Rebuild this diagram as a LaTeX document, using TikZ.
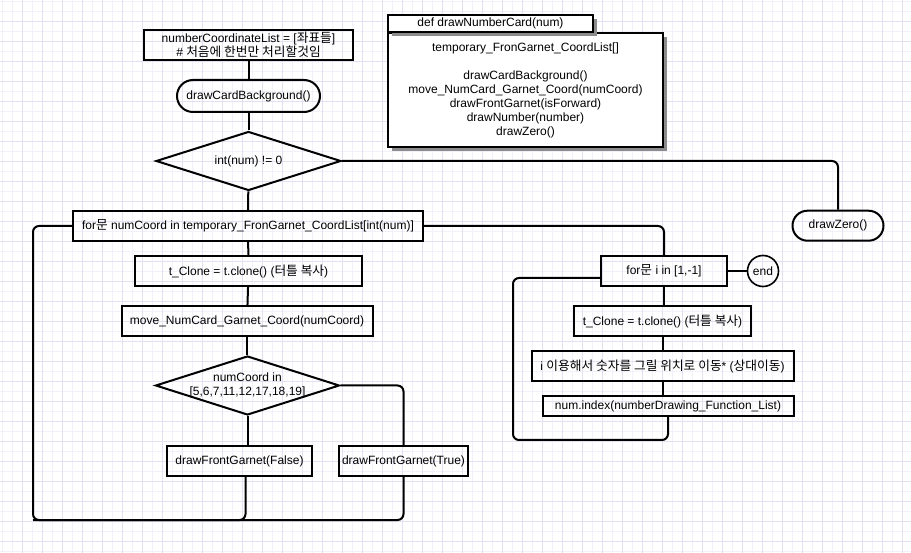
\documentclass[tikz,border=0pt]{standalone}
\usepackage{fontspec}
\setmainfont{Liberation Sans}
\newfontfamily\krfont{Noto Sans CJK KR}[Scale=1.06]
\newcommand\kr[1]{{\krfont #1}}
\usetikzlibrary{shapes.geometric,shadows}
\definecolor{gridminor}{RGB}{241,241,250}
\definecolor{gridmajor}{RGB}{225,225,242}
\tikzset{
  box/.style={draw,line width=2pt,rectangle,inner sep=0pt,minimum height=30pt},
  term/.style={box,rounded corners=15pt},
  dec/.style={draw,line width=2pt,diamond,inner sep=0pt,minimum width=185pt,minimum height=59pt},
  link/.style={line width=2pt,rounded corners=6pt},
  shade/.style={drop shadow={shadow xshift=4pt,shadow yshift=-4pt,opacity=1,fill=black!45}}
}
\begin{document}
\begin{tikzpicture}[x=1pt,y=-1pt,font=\fontsize{12pt}{14pt}\selectfont]
      \useasboundingbox (0,0) rectangle (911,553);
      \fill[white] (0,0) rectangle (911,553);
      \foreach \gx in {2.7,12.7,...,911} \draw[gridminor,line width=.8pt] (\gx,0) -- (\gx,553);
      \foreach \gy in {1.7,11.7,...,553} \draw[gridminor,line width=.8pt] (0,\gy) -- (911,\gy);
      \foreach \gx in {22.7,42.7,...,911} \draw[gridmajor,line width=.8pt] (\gx,0) -- (\gx,553);
      \foreach \gy in {21.7,41.7,...,553} \draw[gridmajor,line width=.8pt] (0,\gy) -- (911,\gy);
      \node[box,minimum width=209pt,align=center] (top) at (248.5,45) {numberCoordinateList = [\kr{좌표들}]\\\# \kr{처음에 한번만 처리할것임}};
      \node[term,rounded corners=16pt,minimum width=143pt,minimum height=32pt] (bg) at (248.5,96) {drawCardBackground()};
      \node[dec] (chk0) at (248.5,161) {};
      \node at (chk0) {int(num) != 0};
      \node[box,minimum width=350pt] (for1) at (248,226) {for\kr{문} numCoord in temporary\_FronGarnet\_CoordList[int(num)]};
      \node[box,minimum width=227pt] (clone1) at (248.5,271) {t\_Clone = t.clone() (\kr{터틀 복사})};
      \node[box,minimum width=251pt] (move1) at (247,321) {move\_NumCard\_Garnet\_Coord(numCoord)};
      \node[dec,minimum width=184pt] (chk1) at (247.5,385.5) {};
      \node[align=center] at (chk1) {numCoord in\\{}[5,6,7,11,12,17,18,19]};
      \node[box,minimum width=145pt] (false) at (239.5,461) {drawFrontGarnet(False)};
      \node[box,minimum width=129pt] (true) at (403.5,461) {drawFrontGarnet(True)};
      \node[term,minimum width=91pt] (zero) at (838,225.7) {drawZero()};
      \node[box,minimum width=126pt] (for2) at (664,271) {for\kr{문} i in [1,-1]};
      \node[draw,circle,line width=1.6pt,minimum size=31pt,inner sep=0pt] (end) at (763,271) {end};
      \node[box,minimum width=177pt] (clone2) at (662.5,321) {t\_Clone = t.clone() (\kr{터틀 복사})};
      \node[box,minimum width=262pt] (move2) at (662.5,366) {i \kr{이용해서 숫자를 그릴 위치로 이동}* (\kr{상대이동})};
      \node[box,minimum width=251pt,minimum height=20pt] (idx) at (668,406) {num.index(numberDrawing\_Function\_List)};
      \node[box,fill=white,shade,minimum width=275pt,minimum height=114pt,align=center] (defb) at (525.5,90)
        {temporary\_FronGarnet\_CoordList[]\\[14pt]drawCardBackground()\\move\_NumCard\_Garnet\_Coord(numCoord)\\drawFrontGarnet(isForward)\\drawNumber(number)\\drawZero()};
      \node[box,fill=white,shade,minimum width=205pt,minimum height=17pt] (defh) at (490.5,23.5) {def drawNumberCard(num)};
      \coordinate (lloop) at (33,520);
      \coordinate (rloop) at (513,440);
      \begin{scope}[link]
        \draw (top) to (bg);
        \draw (bg) to (chk0);
        \draw (chk0) to (for1);
        \draw (chk0.east) -| (zero.north);
        \draw (for1) to (clone1);
        \draw (clone1) to (move1);
        \draw (move1.south) to (move1.south |- chk1.north);
        \draw (chk1.south) to (chk1.south |- false.north);
        \draw (chk1.east) -| (true.north);
        \draw (for1.west) -| (lloop) -| (true.south);
        \draw ([xshift=6pt]false.south) |- (lloop);
        \draw (for1.east) -| (for2.north);
        \draw (for2) to (end);
        \draw (for2.south) to (for2.south |- clone2.north);
        \draw (clone2.south) to (clone2.south |- move2.north);
        \draw (move2.south) to (move2.south |- idx.north);
        \draw ([yshift=-7pt]for2.west) -| (rloop) -| (idx.south);
      \end{scope}
    \end{tikzpicture}
\end{document}
